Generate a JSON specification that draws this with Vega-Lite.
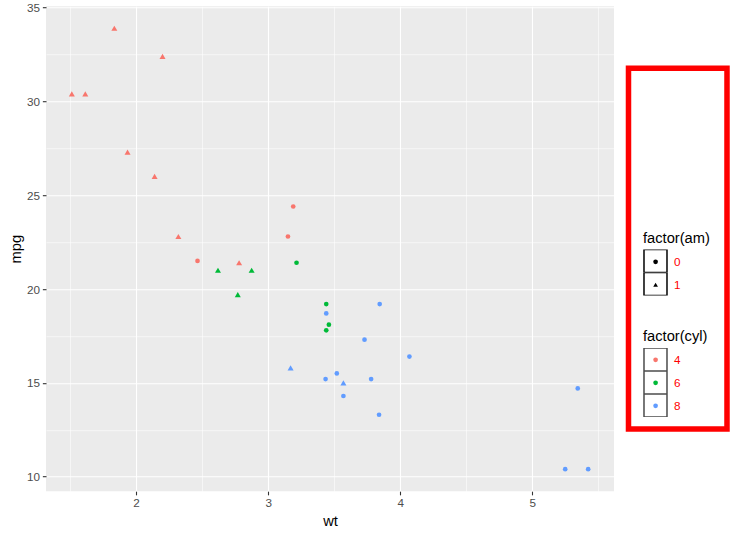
{
  "$schema": "https://vega.github.io/schema/vega-lite/v6.json",
  "padding": {"left": 8, "top": 2.2, "right": 0, "bottom": 0},
  "background": "white",
  "datasets": {
    "mtcars": [
      {"car": "Mazda RX4", "wt": 2.62, "mpg": 21.0, "cyl": "6", "am": "1"},
      {"car": "Mazda RX4 Wag", "wt": 2.875, "mpg": 21.0, "cyl": "6", "am": "1"},
      {"car": "Datsun 710", "wt": 2.32, "mpg": 22.8, "cyl": "4", "am": "1"},
      {"car": "Hornet 4 Drive", "wt": 3.215, "mpg": 21.4, "cyl": "6", "am": "0"},
      {"car": "Hornet Sportabout", "wt": 3.44, "mpg": 18.7, "cyl": "8", "am": "0"},
      {"car": "Valiant", "wt": 3.46, "mpg": 18.1, "cyl": "6", "am": "0"},
      {"car": "Duster 360", "wt": 3.57, "mpg": 14.3, "cyl": "8", "am": "0"},
      {"car": "Merc 240D", "wt": 3.19, "mpg": 24.4, "cyl": "4", "am": "0"},
      {"car": "Merc 230", "wt": 3.15, "mpg": 22.8, "cyl": "4", "am": "0"},
      {"car": "Merc 280", "wt": 3.44, "mpg": 19.2, "cyl": "6", "am": "0"},
      {"car": "Merc 280C", "wt": 3.44, "mpg": 17.8, "cyl": "6", "am": "0"},
      {"car": "Merc 450SE", "wt": 4.07, "mpg": 16.4, "cyl": "8", "am": "0"},
      {"car": "Merc 450SL", "wt": 3.73, "mpg": 17.3, "cyl": "8", "am": "0"},
      {"car": "Merc 450SLC", "wt": 3.78, "mpg": 15.2, "cyl": "8", "am": "0"},
      {"car": "Cadillac Fleetwood", "wt": 5.25, "mpg": 10.4, "cyl": "8", "am": "0"},
      {"car": "Lincoln Continental", "wt": 5.424, "mpg": 10.4, "cyl": "8", "am": "0"},
      {"car": "Chrysler Imperial", "wt": 5.345, "mpg": 14.7, "cyl": "8", "am": "0"},
      {"car": "Fiat 128", "wt": 2.2, "mpg": 32.4, "cyl": "4", "am": "1"},
      {"car": "Honda Civic", "wt": 1.615, "mpg": 30.4, "cyl": "4", "am": "1"},
      {"car": "Toyota Corolla", "wt": 1.835, "mpg": 33.9, "cyl": "4", "am": "1"},
      {"car": "Toyota Corona", "wt": 2.465, "mpg": 21.5, "cyl": "4", "am": "0"},
      {"car": "Dodge Challenger", "wt": 3.52, "mpg": 15.5, "cyl": "8", "am": "0"},
      {"car": "AMC Javelin", "wt": 3.435, "mpg": 15.2, "cyl": "8", "am": "0"},
      {"car": "Camaro Z28", "wt": 3.84, "mpg": 13.3, "cyl": "8", "am": "0"},
      {"car": "Pontiac Firebird", "wt": 3.845, "mpg": 19.2, "cyl": "8", "am": "0"},
      {"car": "Fiat X1-9", "wt": 1.935, "mpg": 27.3, "cyl": "4", "am": "1"},
      {"car": "Porsche 914-2", "wt": 2.14, "mpg": 26.0, "cyl": "4", "am": "1"},
      {"car": "Lotus Europa", "wt": 1.513, "mpg": 30.4, "cyl": "4", "am": "1"},
      {"car": "Ford Pantera L", "wt": 3.17, "mpg": 15.8, "cyl": "8", "am": "1"},
      {"car": "Ferrari Dino", "wt": 2.77, "mpg": 19.7, "cyl": "6", "am": "1"},
      {"car": "Maserati Bora", "wt": 3.57, "mpg": 15.0, "cyl": "8", "am": "1"},
      {"car": "Volvo 142E", "wt": 2.78, "mpg": 21.4, "cyl": "4", "am": "1"}
    ]
  },
  "config": {
    "font": "Liberation Sans",
    "view": {"stroke": null},
    "axis": {
      "domain": false,
      "tickColor": "#333333",
      "tickSize": 3.65,
      "tickWidth": 1.1,
      "labelColor": "#4D4D4D",
      "labelFontSize": 11.7,
      "labelFont": "Liberation Sans",
      "labelPadding": 2.9,
      "titleFont": "Liberation Sans",
      "titleFontSize": 14.7,
      "titleFontWeight": "normal",
      "titleColor": "black",
      "gridColor": "white"
    },
    "legend": {
      "orient": "none",
      "padding": 0,
      "titleFont": "Liberation Sans",
      "titleFontSize": 14.7,
      "titleFontWeight": "normal",
      "titleColor": "black",
      "titlePadding": 5,
      "labelFont": "Liberation Sans",
      "labelFontSize": 11.7,
      "labelColor": "#FF0000",
      "clipHeight": 23,
      "rowPadding": 0
    }
  },
  "spacing": 14.5,
  "bounds": "flush",
  "center": true,
  "hconcat": [
    {
      "width": 568,
      "height": 485,
      "view": {"fill": "#EBEBEB", "stroke": null},
      "encoding": {
        "x": {"field": "wt", "type": "quantitative",
          "scale": {"domain": [1.31745, 5.61955], "nice": false, "zero": false},
          "axis": {"orient": "bottom", "values": [2, 3, 4, 5], "title": "wt", "grid": true, "gridWidth": 1.1, "titlePadding": 4}},
        "y": {"field": "mpg", "type": "quantitative",
          "scale": {"domain": [9.225, 35.075], "nice": false, "zero": false},
          "axis": {"orient": "left", "values": [10, 15, 20, 25, 30, 35], "title": "mpg", "grid": true, "gridWidth": 1.1, "titlePadding": 3}},
        "color": {"field": "cyl", "type": "nominal",
          "scale": {"domain": ["4", "6", "8"], "range": ["#F8766D", "#00BA38", "#619CFF"]},
          "legend": {"title": "factor(cyl)", "legendX": 597, "legendY": 322.4, "symbolSize": 22, "symbolStrokeWidth": 0, "symbolOffset": 6.75, "labelOffset": 12.5, "symbolType": "circle"}},
        "shape": {"field": "am", "type": "nominal",
          "scale": {"domain": ["0", "1"], "range": ["circle", "triangle-up"]},
          "legend": {"title": "factor(am)", "legendX": 597, "legendY": 224.4, "symbolSize": 22, "symbolStrokeWidth": 0, "symbolOffset": 6.75, "labelOffset": 12.5,
            "encode": {"symbols": {"update": {"fill": {"value": "black"}, "stroke": {"value": "black"}, "strokeWidth": {"value": 0}, "size": {"value": 22}}}}}}
      },
      "layer": [
        {
          "data": {"values": []},
          "mark": {"type": "point", "opacity": 0},
          "encoding": {
            "x": {"field": "wt", "type": "quantitative",
              "axis": {"orient": "bottom", "values": [1.5, 2.5, 3.5, 4.5, 5.5], "labels": false, "ticks": false, "domain": false, "title": null, "grid": true, "gridWidth": 0.55}},
            "y": {"field": "mpg", "type": "quantitative",
              "axis": {"orient": "left", "values": [12.5, 17.5, 22.5, 27.5, 32.5], "labels": false, "ticks": false, "domain": false, "title": null, "grid": true, "gridWidth": 0.55}},
            "color": null,
            "shape": null
          }
        },
        {
          "data": {"name": "mtcars"},
          "transform": [{"filter": "datum.am == '0'"}],
          "mark": {"type": "point", "filled": true, "opacity": 1, "size": 22}
        },
        {
          "data": {"name": "mtcars"},
          "transform": [{"filter": "datum.am == '1'"}],
          "mark": {"type": "point", "filled": true, "opacity": 1, "size": 36},
          "encoding": {
            "x": {"field": "wt", "type": "quantitative", "axis": null},
            "y": {"field": "mpg", "type": "quantitative", "axis": null}
          }
        }
      ],
      "resolve": {"axis": {"x": "independent", "y": "independent"}}
    },
    {
      "width": 98.5,
      "height": 360.7,
      "view": {"fill": "white", "stroke": "red", "strokeWidth": 5.5},
      "layer": [
        {
          "data": {"values": []},
          "mark": {"type": "point"},
          "encoding": {
            "size": {"field": "cbox", "type": "ordinal",
              "scale": {"domain": ["c4", "c6", "c8"], "range": [529, 529, 529]},
              "legend": {"title": null, "legendX": 597, "legendY": 341.7, "symbolType": "square", "labelOpacity": 0, "labelFontSize": 1, "symbolStrokeColor": "black", "symbolFillColor": "transparent",
                "encode": {"symbols": {"enter": {"fill": {"value": "transparent"}, "stroke": {"value": "black"}, "strokeWidth": {"value": 1}, "opacity": {"value": 1}}, "update": {"fill": {"value": "transparent"}, "stroke": {"value": "black"}, "strokeWidth": {"value": 1}, "opacity": {"value": 1}}}}}}
          }
        },
        {
          "data": {"values": []},
          "mark": {"type": "point"},
          "encoding": {
            "opacity": {"field": "abox", "type": "ordinal",
              "scale": {"domain": ["a0", "a1"], "range": [1, 1]},
              "legend": {"title": null, "legendX": 597, "legendY": 243.4, "symbolType": "square", "symbolSize": 529, "labelOpacity": 0, "labelFontSize": 1, "symbolStrokeColor": "black", "symbolFillColor": "transparent",
                "encode": {"symbols": {"enter": {"fill": {"value": "transparent"}, "stroke": {"value": "black"}, "strokeWidth": {"value": 1}, "opacity": {"value": 1}}, "update": {"fill": {"value": "transparent"}, "stroke": {"value": "black"}, "strokeWidth": {"value": 1}, "opacity": {"value": 1}}}}}}
          }
        }
      ]
    }
  ]
}
